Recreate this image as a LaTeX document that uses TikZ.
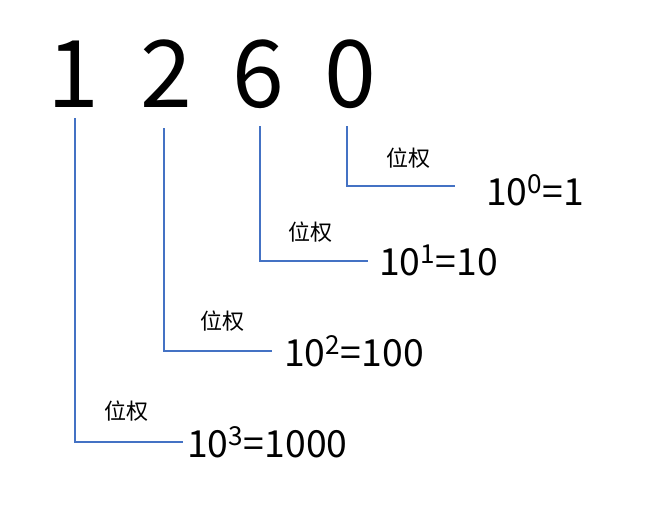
\documentclass[tikz,border=0pt]{standalone}
\usepackage{fontspec}
\setmainfont{Noto Sans CJK SC}
\usetikzlibrary{positioning}
\definecolor{wline}{HTML}{4472C4}
\begin{document}
\begin{tikzpicture}[x=0.75pt, y=-0.75pt,
            digit/.style = {font=\fontsize{70}{70}\selectfont, inner sep=0pt},
            wlabel/.style = {font=\fontsize{16.5}{16.5}\selectfont, inner sep=0pt},
            power/.style = {font=\fontsize{28}{28}\selectfont, inner sep=0pt, anchor=west},
            line/.style = {draw=wline, line width=1pt},
            ]
            \useasboundingbox (0,0) rectangle (649,518);
            \node[digit] (D3) at (73,74) {1};
            \node[digit] (D2) at (166,74) {2};
            \node[digit] (D1) at (258,74) {6};
            \node[digit] (D0) at (350,74) {0};

            \coordinate (T3) at (75,118);
            \coordinate (T2) at (164,128);
            \coordinate (T1) at (260,126);
            \coordinate (T0) at (347,126);
            \coordinate (C3) at (75,442);
            \coordinate (C2) at (164,351);
            \coordinate (C1) at (260,261);
            \coordinate (C0) at (347,186);
            \coordinate (E3) at (183,442);
            \coordinate (E2) at (272,351);
            \coordinate (E1) at (368,261);
            \coordinate (E0) at (455,186);

            \node[wlabel] (L3) at (126,411) {位权};
            \node[wlabel] (L2) at (222,321) {位权};
            \node[wlabel] (L1) at (310,232) {位权};
            \node[wlabel] (L0) at (408,158) {位权};

            \node[power] (P3) at (187,442) {10\textsuperscript{3}=1000};
            \node[power] (P2) at (284,351) {10\textsuperscript{2}=100};
            \node[power] (P1) at (379,260) {10\textsuperscript{1}=10};
            \node[power] (P0) at (486,190) {10\textsuperscript{0}=1};

            \draw[line] (T3) -- (C3) -- (E3);
            \draw[line] (T2) -- (C2) -- (E2);
            \draw[line] (T1) -- (C1) -- (E1);
            \draw[line] (T0) -- (C0) -- (E0);
        \end{tikzpicture}
\end{document}
